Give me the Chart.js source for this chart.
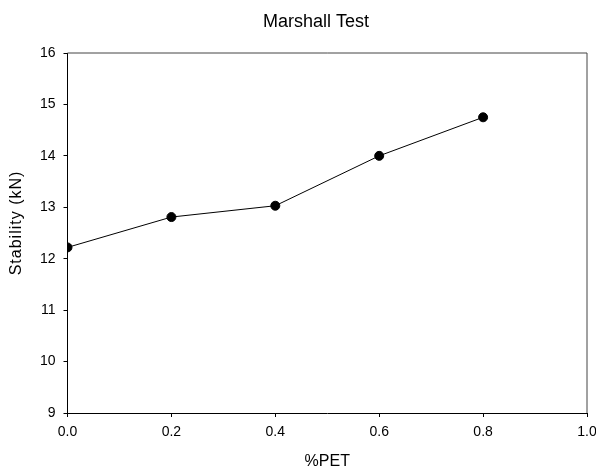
<!DOCTYPE html>
<html>
<head>
<meta charset="utf-8">
<script src="https://cdn.jsdelivr.net/npm/chart.js@4/dist/chart.umd.min.js"></script>
<style>
  body { margin: 0; background: #fff; }
</style>
</head>
<body>
<canvas id="myChart" width="596" height="470"></canvas>
<script>
const pet = [0, 0.2, 0.4, 0.6, 0.8];
const stability = [12.22, 12.81, 13.03, 14.0, 14.75];
const xTicks = [0, 0.2, 0.4, 0.6, 0.8, 1.0];
const yTicks = [9, 10, 11, 12, 13, 14, 15, 16];

const font = 'Liberation Sans, Arial, sans-serif';

// title, axis titles and the top/right frame lines
const frameAndTitles = {
  id: 'frameAndTitles',
  afterDraw(chart) {
    const { ctx, chartArea: a } = chart;
    ctx.save();
    ctx.strokeStyle = '#444';
    ctx.lineWidth = 1;
    ctx.beginPath();
    ctx.moveTo(a.left, a.top);
    ctx.lineTo(a.right, a.top);
    ctx.lineTo(a.right, a.bottom);
    ctx.stroke();

    ctx.fillStyle = '#000';
    ctx.textAlign = 'center';
    ctx.textBaseline = 'middle';
    ctx.font = '18px ' + font;
    ctx.fillText('Marshall Test', 316, 22);

    ctx.font = '16px ' + font;
    ctx.fillText('%PET', (a.left + a.right) / 2, 462);

    ctx.translate(17, 223);
    ctx.rotate(-Math.PI / 2);
    ctx.letterSpacing = '1px';
    ctx.fillText('Stability (kN)', 0, 0);
    ctx.restore();
  }
};

const config = {
  type: 'scatter',
  data: {
    datasets: [{
      label: 'Stability',
      data: pet.map((x, i) => ({ x: x, y: stability[i] })),
      showLine: true,
      borderColor: '#000',
      borderWidth: 1,
      backgroundColor: '#000',
      pointRadius: 4.5,
      pointHoverRadius: 4.5
    }]
  },
  options: {
    responsive: false,
    animation: false,
    layout: { padding: { top: 53, right: 9, left: 0, bottom: 0 } },
    plugins: {
      legend: { display: false },
      tooltip: { enabled: false }
    },
    scales: {
      x: {
        type: 'linear',
        min: 0,
        max: 1,
        afterBuildTicks: (s) => { s.ticks = xTicks.map(v => ({ value: v })); },
        afterFit: (s) => { s.height = 57; s.paddingLeft = 0; s.paddingRight = 0; },
        border: { color: '#000', width: 1 },
        grid: { drawOnChartArea: false, tickLength: 4, color: '#000' },
        ticks: {
          padding: 7,
          color: '#000',
          font: { family: font, size: 14 },
          maxRotation: 0,
          callback: (v) => v.toFixed(1)
        }
      },
      y: {
        min: 9,
        max: 16,
        afterBuildTicks: (s) => { s.ticks = yTicks.map(v => ({ value: v })); },
        afterFit: (s) => { s.width = 67.5; s.paddingTop = 0; s.paddingBottom = 0; },
        border: { color: '#000', width: 1 },
        grid: { drawOnChartArea: false, tickLength: 4, color: '#000' },
        ticks: {
          padding: 8,
          color: '#000',
          font: { family: font, size: 14 }
        }
      }
    }
  },
  plugins: [frameAndTitles]
};

new Chart(document.getElementById('myChart'), config);
</script>
</body>
</html>
